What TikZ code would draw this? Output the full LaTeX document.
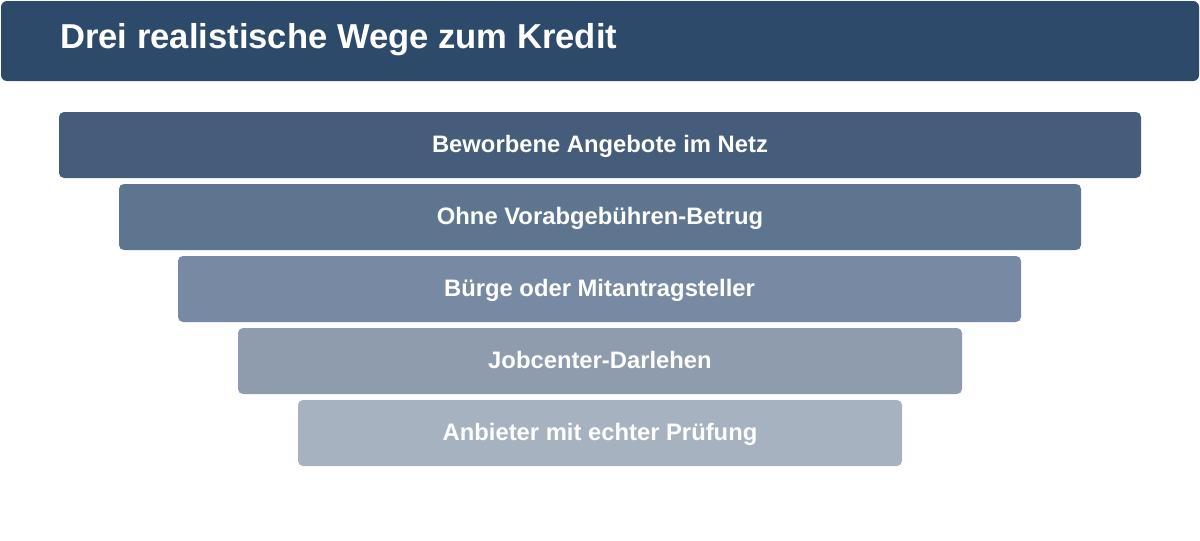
\documentclass[tikz,border=0pt]{standalone}
\usepackage{fontspec}
\setmainfont{Liberation Sans}
\definecolor{titlebg}{HTML}{2E4A6B}
\definecolor{c1}{HTML}{455D7A}
\definecolor{c2}{HTML}{5E7590}
\definecolor{c3}{HTML}{788AA3}
\definecolor{c4}{HTML}{8E9CAE}
\definecolor{c5}{HTML}{A7B2C1}
\tikzset{
  bar/.style={rounded corners=5pt, inner sep=0pt, draw=none, text=white,
    font=\bfseries\fontsize{23.8}{28}\selectfont},
}
\begin{document}
\begin{tikzpicture}[x=1pt,y=-1pt]
\useasboundingbox (0,0) rectangle (1200,541);
\fill[white] (0,0) rectangle (1200,541);
\fill[titlebg, rounded corners=6pt] (1,1) rectangle (1199,81);
\node[anchor=base west, text=white, font=\bfseries\fontsize{34.6}{40}\selectfont, inner sep=0pt] (title) at (60,48) {Drei realistische Wege zum Kredit};
\foreach \i/\xa/\xb/\ya/\col/\txt in {
  1/59/1141/112/c1/Beworbene Angebote im Netz,
  2/119/1081/184/c2/Ohne Vorabgebühren-Betrug,
  3/178/1021/256/c3/Bürge oder Mitantragsteller,
  4/238/962/328/c4/Jobcenter-Darlehen,
  5/298/902/400/c5/Anbieter mit echter Prüfung}{
  \fill[\col, rounded corners=5pt] (\xa,\ya) rectangle (\xb,\ya+66);
  \node[bar, anchor=base] (b\i) at ({(\xa+\xb)/2},\ya+40.5) {\txt};
}
\end{tikzpicture}
\end{document}
